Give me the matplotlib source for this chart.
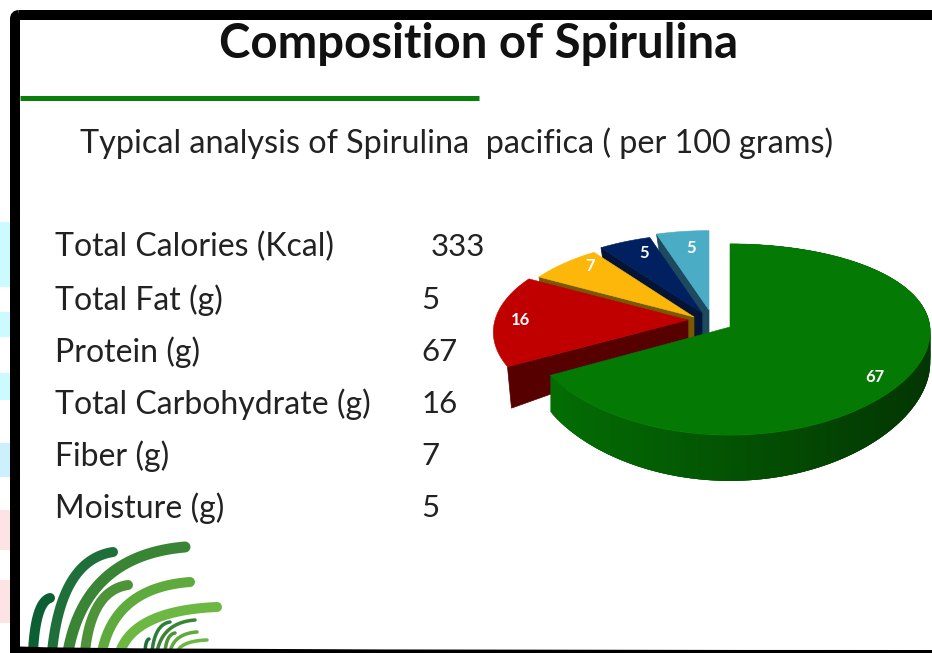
import numpy as np
import matplotlib
matplotlib.use("Agg")
import matplotlib.pyplot as plt
from matplotlib.patches import Polygon, Rectangle, FancyBboxPatch

# ---- data -------------------------------------------------------------
title = "Composition of Spirulina"
subtitle = "Typical analysis of Spirulina  pacifica ( per 100 grams)"
row_labels = ["Total Calories (Kcal)", "Total Fat (g)", "Protein (g)",
              "Total Carbohydrate (g)", "Fiber (g)", "Moisture (g)"]
row_values = ["333", "5", "67", "16", "7", "5"]
pie_values = [67, 16, 7, 5, 5]
pie_top = ["#047a04", "#c00000", "#fdb60a", "#002060", "#4bacc6"]
pie_side = ["#034a03", "#560000", "#7a5800", "#031436", "#1d4a5f"]
pie_apex = [(730, 327), (688, 320), (694, 317), (702, 313), (709, 310)]
pie_scale = [1.0, 0.965, 0.94, 0.95, 0.955]
pie_px = [0.05, 0.131, 0.131, 0.131, 0.131]
pie_label_pos = [(875, 377), (520, 320), (590, 266), (644, 253), (691, 248)]

plt.rcParams["font.family"] = ["Lato", "DejaVu Sans"]
fig = plt.figure(figsize=(9.32, 6.53), dpi=100)
ax = fig.add_axes([0, 0, 1, 1])
ax.set_xlim(0, 932)
ax.set_ylim(653, 0)
ax.axis("off")

# ---- pie geometry: a disc seen in perspective ---------------------------
RX, RY, P, DEPTH = 200.0, 94.0, 0.131, 30.0


def project(i, theta, drop=False):
    """Clockwise angle from top (radians) -> pixel position for slice i."""
    apex, k = pie_apex[i], pie_scale[i]
    u, v = np.sin(theta), np.cos(theta)
    s = 1.0 / (1.0 + P * v)
    sx = 1.0 / (1.0 + pie_px[i] * v)
    x = apex[0] + k * RX * u * sx
    y = apex[1] - k * RY * v * s
    if drop:
        y = y + DEPTH * s ** 3
    return x, y


fractions = np.array(pie_values, dtype=float) / sum(pie_values)
ends = np.cumsum(fractions) * 2 * np.pi
starts = ends - fractions * 2 * np.pi
for z, i in enumerate([4, 3, 2, 1, 0]):  # back to front
    apex = pie_apex[i]
    th = np.linspace(starts[i], ends[i], 240)
    if i != 0:
        # cut face on the leading edge plus the short column at the apex
        ox, oy = project(i, starts[i])
        ox2, oy2 = project(i, starts[i], True)
        ax.add_patch(Polygon([apex, (ox, oy), (ox2 + 4, oy2 + 5), (apex[0], apex[1] + 25)],
                             fc=pie_side[i], ec=pie_side[i], lw=0.5, zorder=3 + z))
        ax.add_patch(Rectangle((apex[0] - 8, apex[1]), 8, 25, fc=pie_side[i], ec="none",
                               zorder=3 + z))
    else:
        # outer wall with a light-to-dark sweep
        xmin, xmax = project(i, th)[0].min(), project(i, th)[0].max()
        for k in range(len(th) - 3):
            a, b = th[k], th[k + 3]
            x1, y1 = project(i, a)
            x2, y2 = project(i, b)
            x3, y3 = project(i, b, True)
            x4, y4 = project(i, a, True)
            t = (x1 - xmin) / (xmax - xmin)
            col = (0.012, 0.43 - 0.22 * t, 0.012)
            ax.add_patch(Polygon([(x1, y1), (x2, y2), (x3, y3), (x4, y4)],
                                 fc=col, ec="none", zorder=3 + z))
    # top face
    xs, ys = project(i, th)
    ax.add_patch(Polygon(np.r_[[apex], np.c_[xs, ys]], fc=pie_top[i], ec=pie_top[i],
                         lw=0.4, zorder=3 + z))
    ax.text(*pie_label_pos[i], str(pie_values[i]), color="white", fontsize=12,
            fontweight="bold", ha="center", va="center", zorder=20)

# ---- slide text ---------------------------------------------------------
ax.text(479, 44, title, fontsize=34, fontweight="bold", color="#111111",
        ha="center", va="center", zorder=5)
ax.plot([20, 479], [98, 98], color="#0b7f0b", lw=3.6, solid_capstyle="butt", zorder=5)
ax.text(80, 143, subtitle, fontsize=23.3, color="#222222", ha="left", va="center", zorder=5)
row_y = [247, 300, 352, 404, 456, 508]
for lab, val, y in zip(row_labels, row_values, row_y):
    ax.text(55, y, lab, fontsize=23, color="#222222", ha="left", va="center", zorder=5)
    ax.text(431 if val == "333" else 421, y, val, fontsize=22.5, color="#222222",
            ha="left", va="center", zorder=5)

# ---- logo arcs ----------------------------------------------------------
clip = Rectangle((20, 20), 912, 630, transform=ax.transData)
logo = [
    ((33, 652), (50, 598), "#0b5f33", 10),
    ((52, 652), (113, 552), "#1f6f3a", 10),
    ((68, 652), (185, 547), "#3a8436", 11),
    ((85, 652), (128, 585), "#4f9339", 10),
    ((102, 652), (190, 582), "#5eaa3c", 10),
    ((120, 652), (217, 607), "#6cb843", 10),
    ((145, 652), (149, 639), "#1f6f3a", 3.5),
    ((152, 652), (170, 622), "#2f7d3b", 3.5),
    ((157, 652), (195, 620), "#3a8436", 3.5),
    ((165, 652), (175, 633), "#4f9339", 3.5),
    ((170, 652), (197, 632), "#5eaa3c", 3.5),
    ((177, 652), (207, 640), "#6cb843", 3.5),
]
for (x0, y0), (x1, y1), col, w in logo:
    t = np.linspace(0, 1, 60)
    cx, cy = x0 + (x1 - x0) * 0.15, y1 + (y0 - y1) * 0.08
    xs = (1 - t) ** 2 * x0 + 2 * t * (1 - t) * cx + t ** 2 * x1
    ys = (1 - t) ** 2 * y0 + 2 * t * (1 - t) * cy + t ** 2 * y1
    ln, = ax.plot(xs, ys, color=col, lw=w * 0.72, solid_capstyle="round", zorder=4)
    ln.set_clip_path(clip)

# ---- slide frame and page strip ----------------------------------------
ax.add_patch(Rectangle((0, 0), 932, 653, fc="white", ec="none", zorder=0))
for y0, y1, col in [(222, 287, "#ccfbff"), (312, 337, "#ccfbff"), (373, 400, "#ccfbff"),
                    (443, 477, "#cdf0fd"), (510, 550, "#fde3e3"), (580, 623, "#fde3e3")]:
    ax.add_patch(Rectangle((0, y0), 10, y1 - y0, fc=col, ec="none", zorder=0.5))
ax.add_patch(FancyBboxPatch((15, 15), 940, 640, boxstyle="round,pad=0,rounding_size=4",
                            fc="none", ec="black", lw=7.2, zorder=30, clip_on=True))
ax.add_patch(Rectangle((10, 650), 922, 3, fc="black", ec="none", zorder=31))

fig.savefig("out.png", dpi=100)
